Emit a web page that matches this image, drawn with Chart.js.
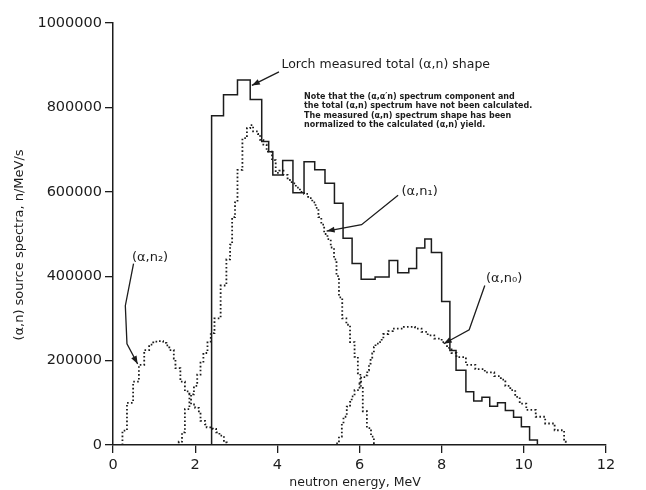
<!DOCTYPE html>
<html>
<head>
<meta charset="utf-8">
<script src="https://cdn.jsdelivr.net/npm/chart.js@4.4.1/dist/chart.umd.min.js"></script>
<style>
  html, body { margin: 0; padding: 0; background: #fff; }
  #wrap { width: 646px; height: 490px; }
</style>
</head>
<body>
<div id="wrap"><canvas id="chart"></canvas></div>
<script>
// Lorch measured total (a,n) shape, step histogram: energy (MeV) / n/MeV/s
const lorchE = [2.40, 2.40, 2.69, 3.03, 3.34, 3.62, 3.79, 3.89, 4.13, 4.38, 4.65, 4.91, 5.16, 5.39, 5.60, 5.82, 6.04, 6.38, 6.72, 6.93, 7.20, 7.39, 7.59, 7.75, 8.00, 8.20, 8.35, 8.59, 8.78, 8.98, 9.17, 9.36, 9.55, 9.75, 9.94, 10.14, 10.33];
const lorchV = [0, 780000, 830000, 865000, 819000, 719000, 695000, 640000, 674000, 598000, 671000, 652000, 620000, 573000, 490000, 430000, 393000, 398000, 437000, 408000, 418000, 467000, 488000, 456000, 340000, 224000, 177000, 126000, 104000, 113000, 92000, 100000, 82000, 66000, 43000, 12000, 0];

// (a,n1) component
const n1E = [1.55, 1.60, 1.68, 1.75, 1.86, 1.97, 2.05, 2.13, 2.20, 2.30, 2.38, 2.47, 2.62, 2.76, 2.85, 2.90, 2.97, 3.03, 3.15, 3.26, 3.34, 3.41, 3.53, 3.58, 3.66, 3.74, 3.87, 3.96, 4.05, 4.15, 4.25, 4.35, 4.45, 4.55, 4.65, 4.75, 4.85, 4.93, 5.00, 5.07, 5.14, 5.22, 5.30, 5.38, 5.44, 5.50, 5.58, 5.68, 5.77, 5.88, 5.96, 6.02, 6.08, 6.18, 6.28, 6.35];
const n1V = [0, 8000, 30000, 85000, 120000, 140000, 167000, 195000, 218000, 245000, 265000, 300000, 378000, 440000, 475000, 540000, 575000, 652000, 727000, 751000, 758000, 743000, 737000, 723000, 712000, 695000, 675000, 645000, 650000, 640000, 628000, 620000, 610000, 600000, 595000, 585000, 575000, 562000, 540000, 522000, 500000, 488000, 468000, 440000, 400000, 350000, 300000, 285000, 244000, 209000, 170000, 140000, 80000, 40000, 20000, 0];

// (a,n0) component
const n0E = [5.38, 5.42, 5.50, 5.57, 5.61, 5.69, 5.77, 5.81, 5.88, 6.00, 6.04, 6.15, 6.19, 6.23, 6.27, 6.31, 6.35, 6.39, 6.50, 6.54, 6.58, 6.70, 6.81, 7.08, 7.35, 7.51, 7.66, 7.82, 8.00, 8.13, 8.24, 8.36, 8.59, 8.82, 9.05, 9.28, 9.44, 9.55, 9.67, 9.79, 9.90, 10.06, 10.29, 10.52, 10.75, 10.98, 11.02];
const n0V = [0, 4000, 20000, 51000, 67000, 91000, 102000, 115000, 130000, 146000, 161000, 165000, 177000, 193000, 205000, 217000, 232000, 240000, 244000, 252000, 263000, 270000, 276000, 280000, 276000, 268000, 260000, 252000, 244000, 230000, 218000, 208000, 190000, 180000, 172000, 163000, 155000, 140000, 130000, 114000, 98000, 83000, 67000, 51000, 35000, 8000, 0];

// (a,n2) component
const n2E = [0.23, 0.23, 0.34, 0.49, 0.63, 0.76, 0.88, 0.98, 1.10, 1.22, 1.30, 1.37, 1.48, 1.52, 1.64, 1.75, 1.86, 1.90, 2.00, 2.09, 2.13, 2.24, 2.28, 2.43, 2.51, 2.59, 2.70, 2.77];
const n2V = [0, 34000, 100000, 150000, 190000, 225000, 238000, 245000, 246000, 242000, 236000, 225000, 205000, 182000, 150000, 127000, 120000, 96000, 88000, 77000, 57000, 49000, 42000, 38000, 30000, 22000, 6000, 0];

const xTicks = [0, 2, 4, 6, 8, 10, 12];
const yTicks = [0, 200000, 400000, 600000, 800000, 1000000];

const ink = '#1c1c1c';
const pts = (es, vs) => es.map((e, i) => ({ x: e, y: vs[i] }));

// labels + arrows, positioned in data units
const callouts = [
  { text: 'Lorch measured total (\u03b1,n) shape', at: [4.1, 900000], size: 12.5, arrow: [[4.04, 884000], [3.38, 852000]] },
  { text: '(\u03b1,n\u2081)', at: [7.02, 600000], size: 13, arrow: [[6.94, 592000], [6.05, 522000], [5.2, 507000]] },
  { text: '(\u03b1,n\u2080)', at: [9.08, 394000], size: 13, arrow: [[9.05, 378000], [8.67, 273000], [8.05, 240000]] },
  { text: '(\u03b1,n\u2082)', at: [0.46, 445000], size: 13, arrow: [[0.5, 430000], [0.3, 330000], [0.34, 240000], [0.6, 192000]] }
];
const noteLines = [
  'Note that the (\u03b1,\u03b1\u2032n) spectrum component and',
  'the total (\u03b1,n) spectrum have not been calculated.',
  'The measured (\u03b1,n) spectrum shape has been',
  'normalized to the calculated (\u03b1,n) yield.'
];

function arrowLine(ctx, p) {
  ctx.beginPath();
  ctx.moveTo(p[0][0], p[0][1]);
  for (let i = 1; i < p.length; i++) ctx.lineTo(p[i][0], p[i][1]);
  ctx.stroke();
  const a = p[p.length - 2], b = p[p.length - 1];
  const ang = Math.atan2(b[1] - a[1], b[0] - a[0]);
  ctx.beginPath();
  ctx.moveTo(b[0], b[1]);
  ctx.lineTo(b[0] - 8 * Math.cos(ang) + 3 * Math.sin(ang), b[1] - 8 * Math.sin(ang) - 3 * Math.cos(ang));
  ctx.lineTo(b[0] - 8 * Math.cos(ang) - 3 * Math.sin(ang), b[1] - 8 * Math.sin(ang) + 3 * Math.cos(ang));
  ctx.closePath();
  ctx.fill();
}

const notes = {
  id: 'notes',
  afterDatasetsDraw(chart) {
    const { ctx, scales: { x, y } } = chart;
    const px = e => x.getPixelForValue(e);
    const py = v => y.getPixelForValue(v);
    ctx.save();
    ctx.fillStyle = ink;
    ctx.strokeStyle = ink;
    ctx.lineWidth = 1.3;
    ctx.textBaseline = 'middle';
    ctx.textAlign = 'left';
    callouts.forEach(c => {
      ctx.font = c.size + 'px "DejaVu Sans"';
      ctx.fillText(c.text, px(c.at[0]), py(c.at[1]));
      arrowLine(ctx, c.arrow.map(q => [px(q[0]), py(q[1])]));
    });
    ctx.font = 'bold 8px "DejaVu Sans"';
    noteLines.forEach((t, i) => ctx.fillText(t, px(4.65), py(826000) + i * 9.5));

    // axis titles
    ctx.font = '12.5px "DejaVu Sans"';
    ctx.textAlign = 'center';
    ctx.fillText('neutron energy, MeV', 355, 483);
    ctx.translate(20, 245);
    ctx.rotate(-Math.PI / 2);
    ctx.font = '13px "DejaVu Sans"';
    ctx.fillText('(\u03b1,n) source spectra, n/MeV/s', 0, 0);
    ctx.restore();
  }
};

const dotted = { borderColor: ink, borderWidth: 1.8, borderDash: [1.6, 2.3], pointRadius: 0, stepped: 'before', fill: false };

new Chart(document.getElementById('chart'), {
  type: 'line',
  data: {
    datasets: [
      { label: 'Lorch', data: pts(lorchE, lorchV), borderColor: ink, borderWidth: 1.5, pointRadius: 0, stepped: 'before', fill: false },
      Object.assign({ label: 'n1', data: pts(n1E, n1V) }, dotted),
      Object.assign({ label: 'n0', data: pts(n0E, n0V) }, dotted),
      Object.assign({ label: 'n2', data: pts(n2E, n2V) }, dotted)
    ]
  },
  options: {
    responsive: true,
    maintainAspectRatio: false,
    animation: false,
    events: [],
    layout: { padding: { left: 8, right: 40, top: 23, bottom: 0 } },
    plugins: { legend: { display: false }, tooltip: { enabled: false } },
    scales: {
      x: {
        type: 'linear', min: 0, max: 12,
        afterFit: s => { s.height = 45; },
        afterBuildTicks: s => { s.ticks = xTicks.map(v => ({ value: v })); },
        border: { display: true, color: ink, width: 1.5 },
        grid: { drawOnChartArea: false, drawTicks: true, tickLength: 8, color: ink, lineWidth: 1.3 },
        ticks: { color: ink, padding: 4, font: { family: 'DejaVu Sans', size: 14.5 }, maxRotation: 0 }
      },
      y: {
        min: 0, max: 1000000,
        afterFit: s => { s.width = 105; },
        afterBuildTicks: s => { s.ticks = yTicks.map(v => ({ value: v })); },
        border: { display: true, color: ink, width: 1.5 },
        grid: { drawOnChartArea: false, drawTicks: true, tickLength: 8, color: ink, lineWidth: 1.3 },
        ticks: { color: ink, padding: 3, font: { family: 'DejaVu Sans', size: 14.5 }, callback: v => String(v) }
      }
    }
  },
  plugins: [notes]
});
</script>
</body>
</html>
